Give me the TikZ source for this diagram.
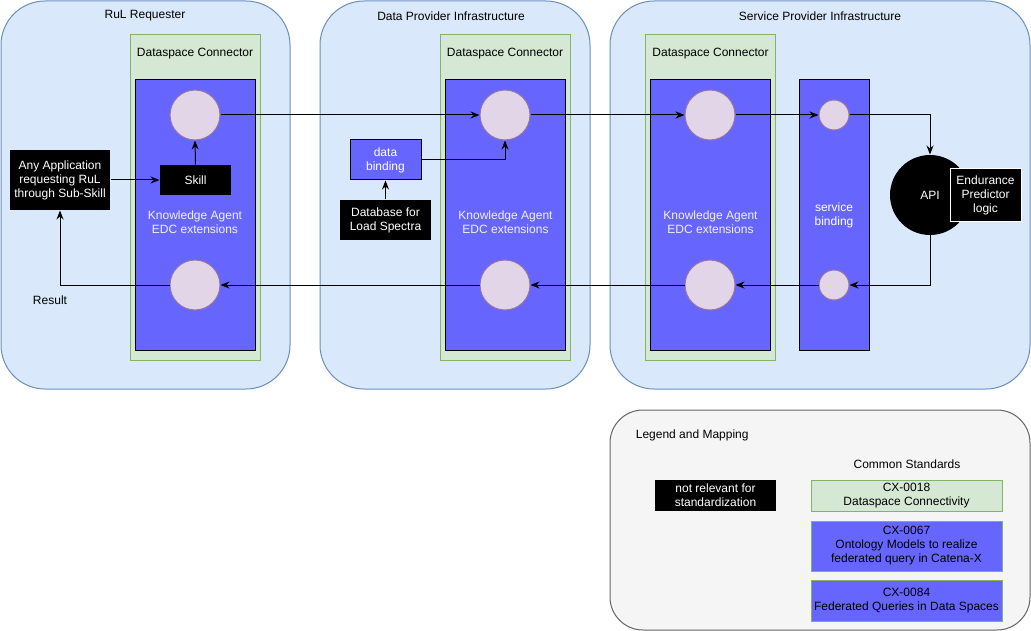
\documentclass[tikz,border=0pt]{standalone}
\usepackage{fontspec}
\setmainfont{Liberation Sans}
\usepackage{tikz}
\usepackage{xcolor}
\usetikzlibrary{calc,shapes,arrows.meta}

\definecolor{panelfill}{HTML}{DAE8FC}
\definecolor{panelline}{HTML}{6C8EBF}
\definecolor{connfill}{HTML}{D5E8D4}
\definecolor{connline}{HTML}{82B366}
\definecolor{agentblue}{HTML}{6666FF}
\definecolor{portfill}{HTML}{E1D5E7}
\definecolor{portline}{HTML}{9673A6}
\definecolor{legfill}{HTML}{F5F5F5}
\definecolor{legline}{HTML}{666666}

\begin{document}
\begin{tikzpicture}[x=1pt,y=-1pt,line width=1pt,font=\fontsize{12}{14}\selectfont,
panel/.style={rectangle,rounded corners=44pt,draw=panelline,fill=panelfill,minimum height=388pt},
conn/.style={rectangle,draw=connline,fill=connfill,minimum width=130pt,minimum height=325pt},
agent/.style={rectangle,draw=black,fill=agentblue,minimum width=120pt,minimum height=270pt},
port/.style={circle,draw=portline,fill=portfill,minimum size=50pt,inner sep=0pt},
sport/.style={port,minimum size=30pt},
bbox/.style={rectangle,fill=black,text=white,align=center,inner sep=2pt},
std/.style={rectangle,draw=connline,minimum width=191pt,align=center,inner sep=1pt},
arr/.style={-{Stealth[length=9pt,width=7pt]}}]
	\useasboundingbox (0,0) rectangle (1031,631);
	%infrastructures
	\node[panel,minimum width=289pt] at (145.5,195) (rul) {};
	\node[panel,minimum width=270pt] at (455,195) (dp) {};
	\node[panel,minimum width=420pt] at (820,195) (sp) {};
	\node at (145,16) {RuL Requester};
	\node at (451,16) {Data Provider Infrastructure};
	\node at (820,16) {Service Provider Infrastructure};

	%dataspace connectors
	\node[conn] at (195,197.5) (c1) {};
	\node[conn] at (505,197.5) (c2) {};
	\node[conn] at (710.5,197.5) (c3) {};
	\foreach \c in {c1,c2,c3}
		\node at ([yshift=-19.5pt]\c.north) {Dataspace Connector};
	\node[agent] at (195,215) (ag1) {};
	\node[agent] at (505.5,215) (ag2) {};
	\node[agent] at (710.5,215) (ag3) {};
	\foreach \a in {ag1,ag2,ag3}
		\node[text=white!90!agentblue,align=center] at ([yshift=-7pt]\a.center) {Knowledge Agent\\EDC extensions};

	%ports
	\node[port] at (195,115) (req1) {};
	\node[port] at (195,285) (res1) {};
	\node[port] at (505,115) (req2) {};
	\node[port] at (505,285) (res2) {};
	\node[port] at (710,115) (req3) {};
	\node[port] at (710,285) (res3) {};

	%requester side
	\node[bbox,minimum width=100pt,minimum height=60pt] at (60,180) (app) {Any Application\\requesting RuL\\through Sub-Skill};
	\node[bbox,minimum width=71pt,minimum height=30pt] at (195.5,180) (skill) {Skill};
	\node at (50,300) (result) {Result};

	%provider side
	\node[rectangle,draw=black,fill=agentblue,text=white,align=center,minimum width=71pt,minimum height=40pt] at (385.5,160) (bind) {data\\binding};
	\node[bbox,minimum width=91pt,minimum height=40pt] at (385.5,220) (db) {Database for\\Load Spectra};

	%service side
	\node[rectangle,draw=black,fill=agentblue,text=white,align=center,minimum width=70pt,minimum height=270pt] at (834,215) (sb) {service\\binding};
	\node[sport] at (834,115) (sreq) {};
	\node[sport] at (834,285) (sres) {};
	\node[circle,fill=black,text=white,minimum size=80pt] at (930,195) (api) {API};
	\node[bbox,draw=white,minimum width=71pt,minimum height=53pt] at (985.5,195.5) (logic) {Endurance\\Predictor\\logic};

	%request flow
	\draw[arr] (app.east) -- (skill.west);
	\draw[arr] (skill.north) -- (req1.south);
	\draw[arr] (req1.east) -- (req2.west);
	\draw[arr] (db.north) -- (bind.south);
	\draw[arr] (bind.east) -| (req2.south);
	\draw[arr] (req2.east) -- (req3.west);
	\draw[arr] (req3.east) -- (sreq.west);
	\draw[arr] (sreq.east) -| (api.north);
	%result flow
	\draw[arr] (api.south) |- (sres.east);
	\draw[arr] (sres.west) -- (res3.east);
	\draw[arr] (res3.west) -- (res2.east);
	\draw[arr] (res2.west) -- (res1.east);
	\draw[arr] (res1.west) -| (app.south);

	%legend
	\node[rectangle,rounded corners=33pt,draw=legline,fill=legfill,minimum width=420pt,minimum height=220pt] at (820,520) (leg) {};
	\node[right] at (632,435) {Legend and Mapping};
	\node at (907,464) {Common Standards};
	\node[bbox,minimum width=121pt,minimum height=31pt,inner sep=0pt] at (715.5,495.5) (nrel) {not relevant for\\standardization};
	\node[std,fill=connfill,minimum height=31pt] at (906.5,495.5) (cx18) {CX-0018\\Dataspace Connectivity};
	\node[std,fill=agentblue,minimum height=50pt] at (906.5,546) (cx67) {CX-0067\\Ontology Models to realize\\federated query in Catena-X};
	\node[std,fill=agentblue,minimum height=41pt] at (906.5,600.5) (cx84) {CX-0084\\Federated Queries in Data Spaces};
\end{tikzpicture}
\end{document}
